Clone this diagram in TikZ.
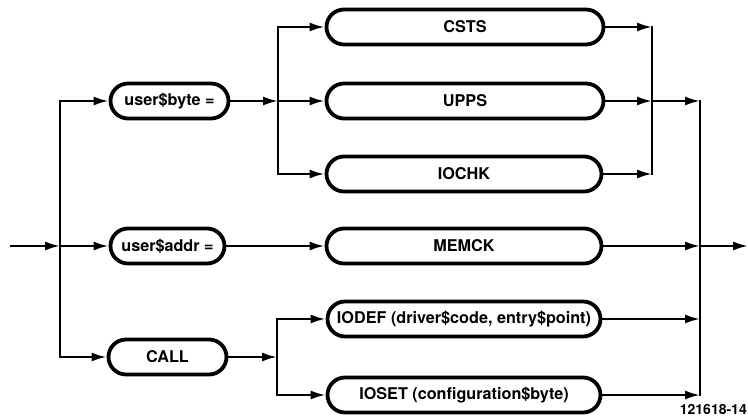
\documentclass[tikz,border=0pt]{standalone}
\usepackage{fontspec}
\setmainfont{TeX Gyre Heros}
\usetikzlibrary{arrows.meta,shapes.misc}
\tikzset{
  term/.style={draw, rounded rectangle, line width=3.8pt, inner sep=0pt,
    minimum height=35pt, font=\bfseries\fontsize{16.2}{17}\selectfont},
  wire/.style={line width=2.3pt, line cap=rect},
  arr/.style={line width=2.3pt, -{Latex[length=15pt,width=9pt]}},
}
\begin{document}
\begin{tikzpicture}[x=1pt,y=-1pt]
  \useasboundingbox (0,0) rectangle (748,417);

  % statement keywords
  \node[term, minimum width=118pt] (ub)   at (169.5,101) {user\$byte =};
  \node[term, minimum width=114pt] (ua)   at (167.5,246) {user\$addr =};
  \node[term, minimum width=118pt] (call) at (167.5,357) {CALL};

  % procedure names
  \node[term, minimum width=277pt] (csts)  at (465,27)  {CSTS};
  \node[term, minimum width=277pt] (upps)  at (465,101) {UPPS};
  \node[term, minimum width=275pt] (iochk) at (464,174) {IOCHK};
  \node[term, minimum width=275pt] (memck) at (464,246) {MEMCK};
  \node[term, minimum width=273pt] (iodef) at (464,319) {IODEF (driver\$code, entry\$point)};
  \node[term, minimum width=273pt] (ioset) at (464,395) {IOSET (configuration\$byte)};

  % junction points
  \coordinate (in)  at (10,246);
  \coordinate (out) at (748,246);
  \coordinate (a1) at (60,101);
  \coordinate (a2) at (60,246);
  \coordinate (a3) at (60,357);
  \coordinate (b1) at (278,27);
  \coordinate (b2) at (278,101);
  \coordinate (b3) at (278,174);
  \coordinate (c1) at (652,27);
  \coordinate (c2) at (652,101);
  \coordinate (c3) at (652,174);
  \coordinate (d1) at (700,101);
  \coordinate (d2) at (700,246);
  \coordinate (d3) at (700,319);
  \coordinate (d4) at (700,395);
  \coordinate (e1) at (277,319);
  \coordinate (e2) at (277,357);
  \coordinate (e3) at (277,395);

  % vertical buses
  \draw[wire] (a1) -- (a3);
  \draw[wire] (b1) -- (b3);
  \draw[wire] (c1) -- (c3);
  \draw[wire] (d1) -- (d4);
  \draw[wire] (e1) -- (e3);

  % entry and first branch
  \draw[arr] (in) -- (a2);
  \draw[arr] (a1) -- (ub.west);
  \draw[arr] (a2) -- (ua.west);
  \draw[arr] (a3) -- (call.west);

  % user$byte branch
  \draw[arr] (ub.east) -- (b2);
  \draw[arr] (b1) -- (csts.west);
  \draw[arr] (b2) -- (upps.west);
  \draw[arr] (b3) -- (iochk.west);
  \draw[arr] (csts.east) -- (c1);
  \draw[arr] (upps.east) -- (c2);
  \draw[arr] (iochk.east) -- (c3);
  \draw[arr] (c2) -- (d1);

  % user$addr branch
  \draw[arr] (ua.east) -- (memck.west);
  \draw[arr] (memck.east) -- (d2);

  % CALL branch
  \draw[arr] (call.east) -- (e2);
  \draw[arr] (e1) -- (iodef.west);
  \draw[arr] (e3) -- (ioset.west);
  \draw[arr] (iodef.east) -- (d3);
  \draw[arr] (ioset.east) -- (d4);

  % exit
  \draw[arr] (d2) -- (out);

  % figure number
  \node[anchor=base east, inner sep=0pt, font=\bfseries\fontsize{14}{14}\selectfont] (fig) at (747,414) {121618-14};
\end{tikzpicture}
\end{document}
